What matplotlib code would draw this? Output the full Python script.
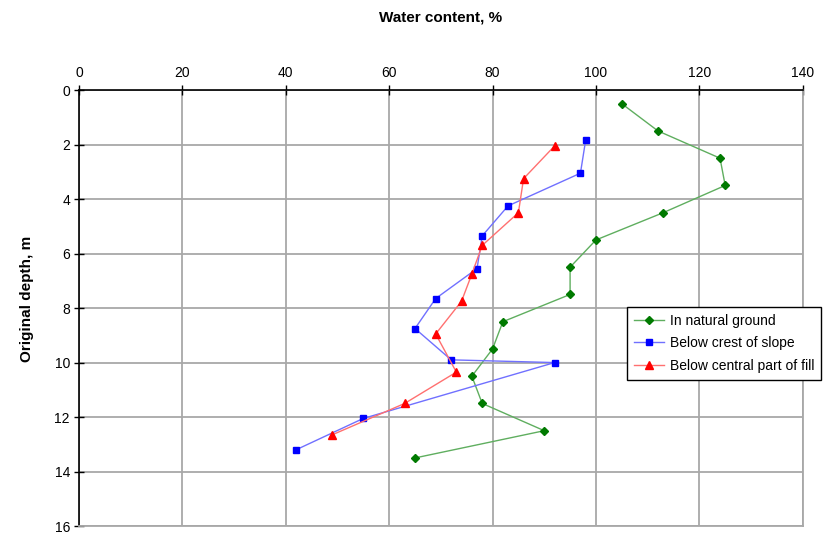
import matplotlib
matplotlib.use("Agg")
import matplotlib.pyplot as plt

plt.rcParams['font.family'] = ['Liberation Sans', 'DejaVu Sans']

natural_wc = [105, 112, 124, 125, 113, 100, 95, 95, 82, 80, 76, 78, 90, 65]
natural_depth = [0.5, 1.5, 2.5, 3.5, 4.5, 5.5, 6.5, 7.5, 8.5, 9.5, 10.5, 11.5, 12.5, 13.5]

crest_wc = [98, 97, 83, 78, 77, 69, 65, 72, 92, 55, 42]
crest_depth = [1.85, 3.05, 4.25, 5.35, 6.55, 7.65, 8.75, 9.9, 10.0, 12.05, 13.2]

fill_wc = [92, 86, 85, 78, 76, 74, 69, 73, 63, 49]
fill_depth = [2.05, 3.25, 4.5, 5.7, 6.75, 7.75, 8.95, 10.35, 11.5, 12.65]

x_ticks = [0, 20, 40, 60, 80, 100, 120, 140]
y_ticks = [0, 2, 4, 6, 8, 10, 12, 14, 16]

fig = plt.figure(figsize=(8.31, 5.33), dpi=100)
ax = fig.add_axes([0.095, 0.013, 0.871, 0.818])

ax.plot(natural_wc, natural_depth, color='#5fae5f', lw=1.0, marker='D', ms=4,
        mfc='#007a00', mec='#007a00', label='In natural ground', zorder=3)
ax.plot(crest_wc, crest_depth, color='#7070ff', lw=1.0, marker='s', ms=5,
        mfc='#0000ff', mec='#0000ff', label='Below crest of slope', zorder=3)
ax.plot(fill_wc, fill_depth, color='#ff7070', lw=1.0, marker='^', ms=5.5,
        mfc='#ff0000', mec='#ff0000', label='Below central part of fill', zorder=3)

ax.set_xlim(0, 140)
ax.set_ylim(16, 0)
ax.set_xticks(x_ticks)
ax.set_yticks(y_ticks)
ax.xaxis.tick_top()
ax.xaxis.set_label_position('top')
ax.tick_params(axis='both', direction='inout', length=7, width=1, labelsize=10,
               colors='#000000', pad=3)
ax.tick_params(axis='x', pad=4)
ax.grid(True, color='#a8a8a8', lw=1.3)
ax.set_axisbelow(True)
for s in ['right', 'bottom']:
    ax.spines[s].set_color('#a8a8a8')
    ax.spines[s].set_linewidth(1.3)
for s in ['left', 'top']:
    ax.spines[s].set_color('#000000')
    ax.spines[s].set_linewidth(1.2)

fig.text(0.53, 0.968, 'Water content, %', ha='center', va='center',
         fontsize=11, fontweight='bold')
fig.text(0.032, 0.44, 'Original depth, m', ha='center', va='center',
         rotation=90, fontsize=11, fontweight='bold')

leg = fig.legend(loc='upper left', bbox_to_anchor=(0.754, 0.424), fontsize=10,
                 frameon=True, fancybox=False, edgecolor='#000000',
                 framealpha=1, handlelength=2.2, borderpad=0.5, labelspacing=0.6,
                 handletextpad=0.4, borderaxespad=0)
leg.get_frame().set_linewidth(1.0)

fig.savefig('out.png', dpi=100)
